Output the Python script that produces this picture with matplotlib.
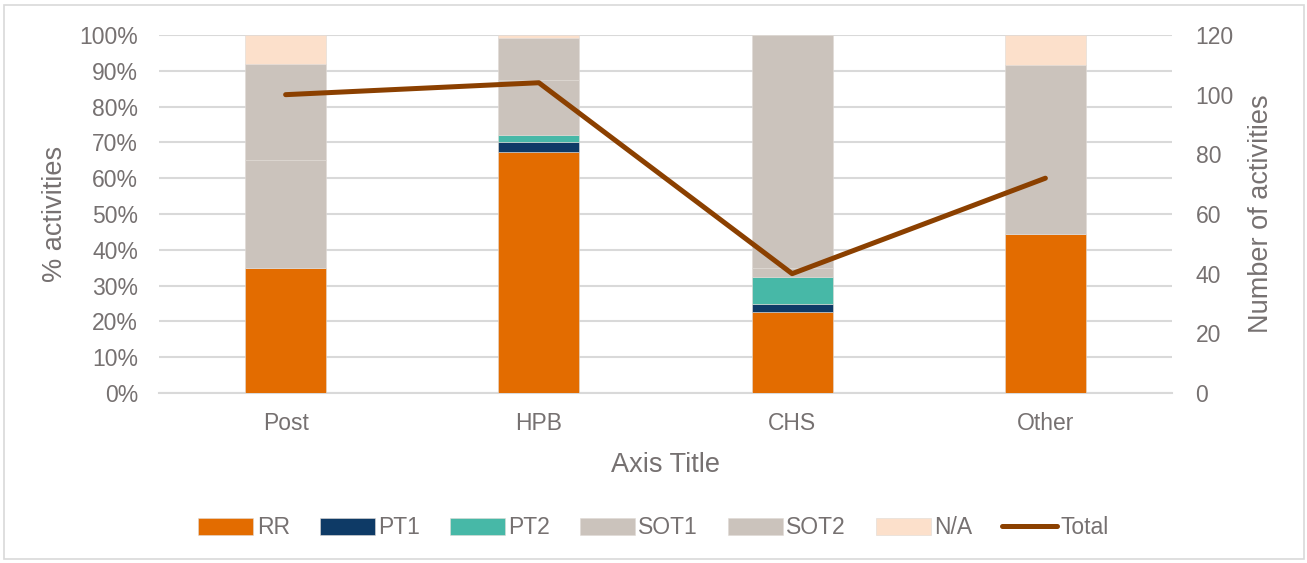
import matplotlib.pyplot as plt
import numpy as np
from matplotlib.ticker import PercentFormatter

plt.rcParams['font.family'] = ['Liberation Sans', 'DejaVu Sans']

# activity counts per category
categories = ['Post', 'HPB', 'CHS', 'Other']
rr = [35, 70, 9, 32]
pt1 = [0, 3, 1, 0]
pt2 = [0, 2, 3, 0]
sot1 = [30, 16, 1, 34]
sot2 = [27, 12, 26, 0]
na = [8, 1, 0, 6]

series = [('RR', rr, '#E36C00'), ('PT1', pt1, '#0E3A66'), ('PT2', pt2, '#47B8A7'),
          ('SOT1', sot1, '#CBC3BC'), ('SOT2', sot2, '#CBC3BC'), ('N/A', na, '#FCE0CB')]

total = np.sum([s[1] for s in series], axis=0)
txt = '#767171'

fig = plt.figure(figsize=(13.07, 5.63), dpi=100)
ax = fig.add_axes([159/1307, 1-393/563, (1172-159)/1307, (393-35)/563])
ax2 = ax.twinx()

x = np.arange(len(categories))
bottom = np.zeros(len(categories))
handles = []
for name, vals, col in series:
    pct = np.array(vals) / total * 100
    b = ax.bar(x, pct, 0.32, bottom=bottom, color=col, label=name, zorder=3,
               edgecolor='#E0DAD5', linewidth=0.4)
    bottom += pct
    handles.append(b)

ln, = ax2.plot(x, total, color='#8B4000', linewidth=3.6, solid_capstyle='round', label='Total')
handles.append(ln)

ax.set_xlim(-0.5, 3.5)
ax.set_ylim(0, 100)
ax.set_yticks(np.arange(0, 101, 10))
ax.yaxis.set_major_formatter(PercentFormatter(decimals=0))
ax2.set_ylim(0, 120)
ax2.set_yticks(np.arange(0, 121, 20))
ax.set_xticks(x)
ax.set_xticklabels(categories)

ax.grid(axis='y', color='#D9D9D9', linewidth=1.5, zorder=0)
ax.set_axisbelow(True)
for a in (ax, ax2):
    for s in a.spines.values():
        s.set_visible(False)
    a.tick_params(length=0, labelsize=16.5, colors=txt)
ax.spines['bottom'].set_visible(True)
ax.spines['bottom'].set_color('#D9D9D9')
ax.spines['bottom'].set_linewidth(1.5)
ax.tick_params(axis='y', pad=15)
ax.tick_params(axis='x', pad=14)
ax2.tick_params(axis='y', pad=17)

ax.set_ylabel('% activities', fontsize=19.5, color=txt, labelpad=8)
ax2.set_ylabel('Number of activities', fontsize=19.5, color=txt, labelpad=10)
ax.set_xlabel('Axis Title', fontsize=19.5, color=txt, labelpad=12)

fig.legend(handles=handles, labels=[h.get_label() for h in handles], loc='center',
           bbox_to_anchor=(0.5, 1-528/563), ncol=7, frameon=False, fontsize=16.5,
           labelcolor=txt, handlelength=2.4, handleheight=0.8, columnspacing=1.3,
           handletextpad=0.15)

fig.patches.append(plt.Rectangle((4/1307, 4/563), 1300/1307, 554/563, transform=fig.transFigure,
                                 fill=False, edgecolor='#D9D9D9', linewidth=1.2))

fig.savefig('out.png', dpi=100)
